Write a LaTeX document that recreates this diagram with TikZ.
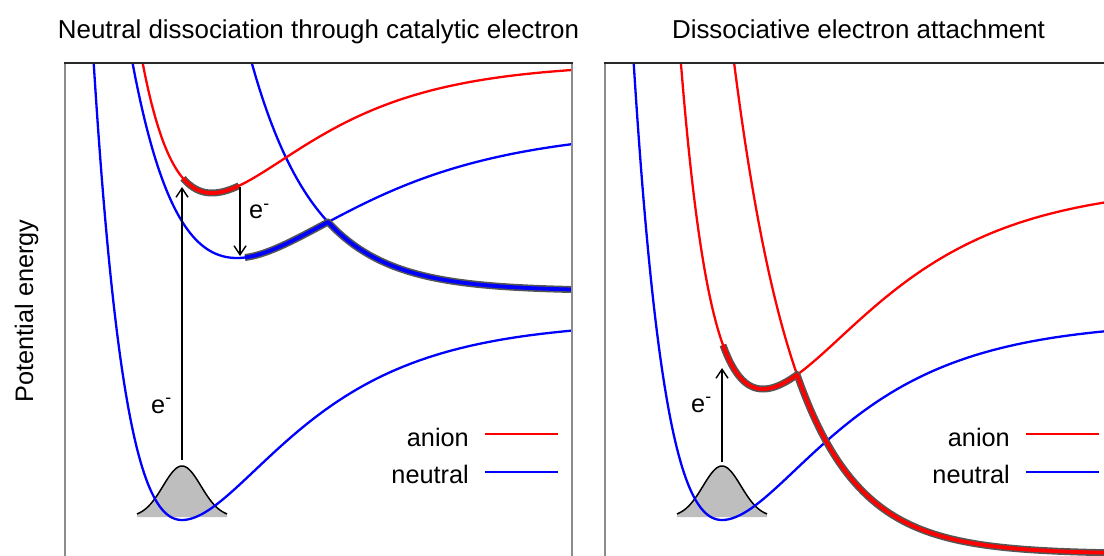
\documentclass[tikz,border=0pt]{standalone}
\usepackage{fontspec}
\setmainfont{Liberation Sans}
\usetikzlibrary{arrows.meta}
\definecolor{gfill}{RGB}{190,190,190}
\definecolor{hlgray}{RGB}{85,85,85}
\definecolor{cred}{RGB}{255,0,0}
\definecolor{cblue}{RGB}{0,0,255}
\definecolor{sidegray}{RGB}{140,140,140}
\definecolor{topgray}{RGB}{40,40,40}
\begin{document}
\begin{tikzpicture}[x=1pt,y=-1pt,
  declare function={
    morse(\x,\pa,\pb,\pc,\pd)=\pb-\pc*(1-exp(-\pd*(\x-\pa)))*(1-exp(-\pd*(\x-\pa)));
    rep(\x,\pa,\pb,\pc,\pd)=\pb-\pc*exp(-\pd*(\x-\pa));
    gauss(\x,\pa)=517-51*exp(-(\x-\pa)*(\x-\pa)/722);
  },
  curve/.style={line width=2.3pt},
  redc/.style={curve,cred},
  bluec/.style={curve,cblue},
  hlback/.style={line width=7pt,hlgray,line join=round},
  hlred/.style={line width=3.8pt,cred,line join=round},
  hlblue/.style={line width=3.8pt,cblue,line join=round},
  gaussfill/.style={fill=gfill},
  gaussline/.style={line width=1.5pt,black},
  earrow/.style={line width=1.4pt,black,-{Straight Barb[length=9pt,width=12pt,line width=1.4pt]}},
  txt/.style={font=\fontsize{25.3pt}{30pt}\selectfont,inner sep=0pt},
  ttl/.style={font=\fontsize{25.9pt}{30pt}\selectfont,inner sep=0pt},
  sideline/.style={line width=1.6pt,sidegray},
  topline/.style={line width=1.3pt,topgray},
  legred/.style={line width=2.3pt,cred},
  legblue/.style={line width=2.3pt,cblue},
]
\useasboundingbox (0,0) rectangle (1104,556);
\clip (0,0) rectangle (1104,556);

% ---------------- left panel ----------------
\begin{scope}
\clip (65,63) rectangle (572,560);
\fill[gaussfill] plot[domain=137:227,samples=60] (\x,{gauss(\x,182)}) -- (227,517) -- (137,517) -- cycle;
\draw[gaussline] plot[domain=137:227,samples=60] (\x,{gauss(\x,182)});
\draw[bluec] plot[domain=80:182,samples=100] (\x,{morse(\x,182,520,196,0.0105)})
   -- plot[domain=182:580,samples=200] (\x,{morse(\x,182,520,199,0.0095)});
\draw[bluec] plot[domain=118:237,samples=120] (\x,{morse(\x,237,258,155,0.0072)})
   -- plot[domain=237:580,samples=200] (\x,{morse(\x,237,258,130,0.0082)});
\draw[bluec] plot[domain=238:580,samples=200] (\x,{rep(\x,328,291,69,0.01568)});
\draw[redc] plot[domain=132:580,samples=250] (\x,{morse(\x,212,193,130,0.01)});
% highlights
\draw[hlback] plot[domain=183:239,samples=40] (\x,{morse(\x,212,193,130,0.01)});
\draw[hlred] plot[domain=183:239,samples=40] (\x,{morse(\x,212,193,130,0.01)});
\draw[hlback] plot[domain=245:328,samples=50] (\x,{morse(\x,237,258,130,0.0082)})
   -- plot[domain=328:580,samples=120] (\x,{rep(\x,328,291,69,0.01568)});
\draw[hlblue] plot[domain=245:328,samples=50] (\x,{morse(\x,237,258,130,0.0082)})
   -- plot[domain=328:580,samples=120] (\x,{rep(\x,328,291,69,0.01568)});
\end{scope}
\coordinate (upLa) at (182,460);
\coordinate (upLb) at (182,187);
\draw[earrow] (upLa) -- (upLb);
\coordinate (dnLa) at (240,187);
\coordinate (dnLb) at (240,256);
\draw[earrow] (dnLa) -- (dnLb);
\node[txt,anchor=base west] (eL1) at (151,413) {e\textsuperscript{-}};
\node[txt,anchor=base west] (eL2) at (249,219) {e\textsuperscript{-}};
\node[txt,anchor=base east] (legLa) at (469,446) {anion};
\node[txt,anchor=base east] (legLn) at (469,483) {neutral};
\coordinate (lLa0) at (485,434); \coordinate (lLa1) at (558,434);
\coordinate (lLn0) at (485,472); \coordinate (lLn1) at (558,472);
\draw[legred] (lLa0) -- (lLa1);
\draw[legblue] (lLn0) -- (lLn1);
\draw[sideline] (65,560) -- (65,63);
\draw[sideline] (572,63) -- (572,560);
\draw[topline] (64.2,63) -- (572.8,63);

% ---------------- right panel ----------------
\begin{scope}
\clip (605,63) rectangle (1112,560);
\fill[gaussfill] plot[domain=677:767,samples=60] (\x,{gauss(\x,722)}) -- (767,517) -- (677,517) -- cycle;
\draw[gaussline] plot[domain=677:767,samples=60] (\x,{gauss(\x,722)});
\draw[bluec] plot[domain=620:722,samples=100] (\x,{morse(\x,722,520,196,0.0105)})
   -- plot[domain=722:1115,samples=200] (\x,{morse(\x,722,520,199,0.0095)});
\draw[redc] plot[domain=668:763,samples=80] (\x,{morse(\x,763,389,116,0.012)})
   -- plot[domain=763:1115,samples=200] (\x,{morse(\x,763,389,205,0.009)});
\draw[redc] plot[domain=722:1115,samples=250] (\x,{rep(\x,797,554,179.5,0.016)});
% highlights
\draw[hlback] plot[domain=723:763,samples=30] (\x,{morse(\x,763,389,116,0.012)})
   -- plot[domain=763:797,samples=30] (\x,{morse(\x,763,389,205,0.009)})
   -- plot[domain=797:1115,samples=160] (\x,{rep(\x,797,554,179.5,0.016)});
\draw[hlred] plot[domain=723:763,samples=30] (\x,{morse(\x,763,389,116,0.012)})
   -- plot[domain=763:797,samples=30] (\x,{morse(\x,763,389,205,0.009)})
   -- plot[domain=797:1115,samples=160] (\x,{rep(\x,797,554,179.5,0.016)});
\end{scope}
\coordinate (upRa) at (722,462);
\coordinate (upRb) at (722,368);
\draw[earrow] (upRa) -- (upRb);
\node[txt,anchor=base west] (eR1) at (691,412) {e\textsuperscript{-}};
\node[txt,anchor=base east] (legRa) at (1010,446) {anion};
\node[txt,anchor=base east] (legRn) at (1010,483) {neutral};
\coordinate (lRa0) at (1026,434); \coordinate (lRa1) at (1099,434);
\coordinate (lRn0) at (1026,472); \coordinate (lRn1) at (1099,472);
\draw[legred] (lRa0) -- (lRa1);
\draw[legblue] (lRn0) -- (lRn1);
\draw[sideline] (605,560) -- (605,63);
\draw[topline] (604.2,63) -- (1112,63);

% ---------------- titles ----------------
\node[ttl,anchor=base] (titleL) at (318.5,39) {Neutral dissociation through catalytic electron};
\node[ttl,anchor=base] (titleR) at (858.5,39) {Dissociative electron attachment};
\node[txt,anchor=base,rotate=90] (ylab) at (33,311) {Potential energy};
\end{tikzpicture}
\end{document}
